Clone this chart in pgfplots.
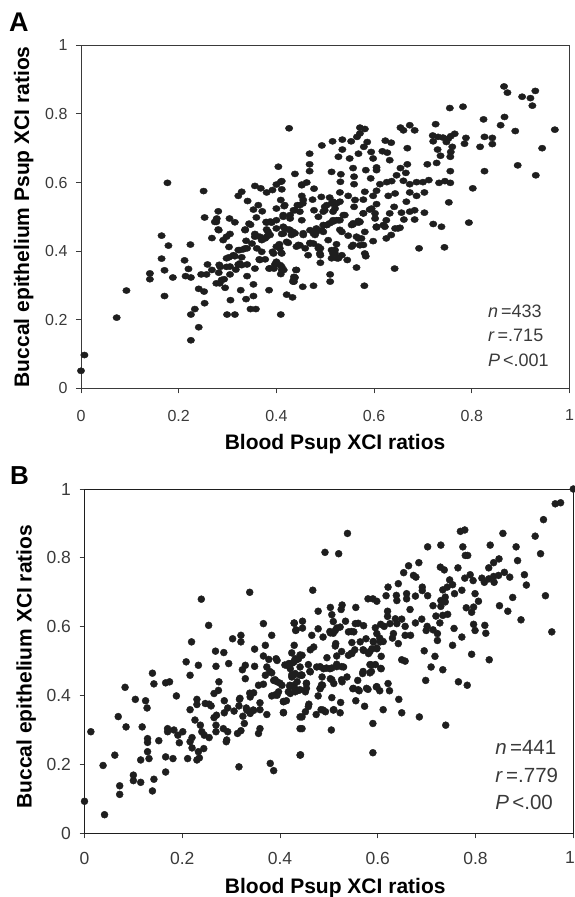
\documentclass[border=0pt]{standalone}
\usepackage{fontspec}
\setmainfont{Liberation Sans}
\usepackage{pgfplots}
\pgfplotsset{compat=1.18}
\definecolor{ink}{HTML}{1E1E1E}
\definecolor{ticktext}{HTML}{3A3A3A}
\pgfplotsset{panel/.style={
    scale only axis,
    xmin=0,xmax=1,ymin=0,ymax=1,
    xtick={0,0.2,0.4,0.6,0.8,1},
    ytick={0,0.2,0.4,0.6,0.8,1},
    tick align=outside,
    major tick length=5pt,
    tick style={color=ticktext,line width=0.8pt},
    xtick pos=bottom,ytick pos=left,
    clip=false,
    /pgf/number format/assume math mode=true,
    /pgf/number format/fixed,
    label style={font=\fontsize{21}{25}\bfseries\selectfont,text=black},
}}

\pgfplotstableread{
x y
0 .051
.007 .097
.073 .206
.093 .285
.141 .335
.141 .318
.165 .445
.179 .416
.165 .378
.171 .344
.171 .269
.188 .323
.224 .419
.212 .373
.220 .348
.214 .327
.225 .323
.241 .290
.252 .282
.233 .231
.225 .215
.241 .178
.225 .140
.253 .248
.246 .332
.257 .332
.259 .361
.268 .345
.268 .438
.282 .461
.277 .485
.282 .337
.283 .360
.277 .306
.284 .306
.293 .318
.295 .293
.305 .355
.305 .332
.306 .257
.299 .215
.315 .215
.291 .432
.298 .442
.305 .450
.303 .412
.303 .382
.315 .385
.329 .382
.317 .346
.322 .403
.332 .405
.340 .408
.322 .361
.329 .359
.340 .361
.327 .286
.340 .327
.338 .260
.353 .269
.347 .231
.358 .231
.353 .303
.356 .349
.336 .461
.347 .477
.338 .430
.356 .450
.350 .422
.360 .408
.370 .398
.365 .376
.377 .376
.370 .432
.380 .442
.387 .447
.385 .286
.385 .349
.395 .349
.392 .398
.397 .361
.408 .359
.415 .345
.409 .333
.409 .215
.421 .273
.433 .265
.434 .311
.438 .323
.441 .345
.410 .395
.400 .413
.406 .420
.411 .450
.424 .424
.441 .413
.434 .456
.426 .463
.380 .483
.390 .483
.400 .466
.414 .471
.426 .758
.177 .599
.251 .575
.404 .646
.438 .625
.356 .590
.368 .583
.329 .573
.322 .561
.380 .571
.392 .578
.400 .594
.409 .602
.411 .580
.341 .546
.409 .549
.363 .534
.353 .521
.371 .516
.400 .524
.416 .531
.435 .519
.443 .534
.452 .592
.281 .516
.278 .495
.274 .485
.253 .498
.304 .495
.315 .484
.359 .498
.344 .480
.379 .485
.390 .485
.400 .490
.414 .500
.428 .495
.336 .463
.281 .463
.380 .463
.417 .466
.866 .880
.873 .862
.903 .850
.920 .846
.930 .867
.924 .824
.755 .817
.782 .821
.824 .784
.867 .791
.859 .767
.889 .750
.970 .754
.944 .700
.894 .650
.931 .621
.826 .633
.802 .583
.753 .542
.794 .483
.726 .770
.826 .733
.842 .730
.842 .712
.817 .704
.788 .730
.785 .713
.720 .737
.721 .720
.731 .733
.741 .731
.752 .728
.757 .735
.765 .742
.748 .718
.760 .704
.730 .696
.736 .678
.756 .675
.757 .689
.709 .653
.728 .657
.756 .633
.654 .760
.660 .752
.673 .767
.683 .752
.668 .700
.571 .760
.581 .756
.565 .733
.571 .743
.586 .718
.579 .704
.623 .722
.635 .716
.553 .720
.535 .725
.515 .720
.493 .708
.535 .696
.468 .684
.527 .675
.550 .670
.568 .684
.594 .689
.598 .670
.617 .691
.627 .687
.632 .665
.468 .653
.468 .633
.513 .631
.532 .624
.557 .642
.559 .617
.583 .636
.605 .644
.605 .636
.593 .612
.654 .642
.668 .653
.665 .628
.646 .621
.660 .605
.531 .602
.559 .595
.452 .594
.462 .600
.477 .582
.612 .595
.626 .601
.636 .604
.673 .595
.687 .601
.700 .601
.712 .607
.733 .599
.745 .604
.756 .599
.411 .604
.452 .561
.530 .571
.492 .558
.509 .556
.547 .561
.581 .573
.605 .576
.598 .561
.629 .561
.643 .568
.673 .571
.687 .561
.703 .571
.474 .550
.454 .539
.438 .519
.417 .534
.516 .544
.530 .544
.561 .549
.578 .550
.499 .529
.496 .515
.516 .515
.477 .519
.559 .529
.605 .537
.641 .529
.666 .544
.591 .521
.578 .510
.602 .495
.632 .510
.656 .512
.683 .519
.673 .515
.703 .512
.683 .492
.661 .492
.721 .479
.738 .471
.486 .500
.537 .505
.516 .490
.527 .490
.452 .490
.571 .485
.557 .478
.503 .476
.625 .490
.605 .471
.653 .468
.643 .466
.482 .466
.530 .462
.692 .408
.744 .411
.642 .349
.580 .299
.564 .352
.545 .374
.510 .332
.510 .311
.476 .299
.454 .296
.436 .325
.440 .345
.436 .311
.598 .429
.581 .393
.583 .385
.554 .413
.571 .417
.574 .437
.523 .420
.513 .403
.520 .393
.534 .388
.513 .379
.524 .379
.490 .408
.490 .388
.490 .366
.506 .432
.465 .388
.476 .422
.448 .417
.459 .408
.421 .427
.469 .424
.486 .413
.455 .447
.476 .451
.496 .456
.435 .451
.534 .456
.547 .445
.564 .442
.581 .456
.414 .451
.496 .476
.509 .481
.523 .490
.554 .476
.568 .483
.605 .469
.622 .471
.625 .437
.635 .447
.649 .466
.411 .393
.411 .345
.414 .505
.428 .505
.387 .486
.448 .534
.448 .515
.455 .549
.503 .534
.513 .539
.523 .539
.520 .524
.499 .519
.503 .476
.516 .486
.530 .490
.540 .505
.557 .481
.568 .488
.455 .452
.469 .461
.482 .456
.493 .461
.479 .447
.428 .461
.438 .452
.431 .447
.445 .418
.469 .422
.486 .408
.489 .393
.366 .442
.377 .437
.356 .442
.383 .456
.325 .403
.336 .408
.298 .379
.312 .388
.325 .364
.285 .354
.298 .354
.288 .316
.520 .403
.527 .379
.516 .393
.557 .418
.568 .437
.578 .418
.578 .510
.595 .524
.602 .510
.605 .471
.619 .476
.400 .369
.411 .354
.387 .350
.435 .316
.366 .374
.407 .408
.394 .393
}\tableA

\pgfplotstableread{
x y
0 .093
.041 .054
.013 .295
.038 .197
.062 .227
.069 .339
.085 .309
.083 .424
.072 .138
.072 .113
.104 .389
.100 .169
.100 .153
.115 .148
.115 .213
.118 .309
.125 .385
.128 .364
.129 .275
.129 .264
.129 .237
.132 .217
.139 .465
.142 .434
.142 .157
.139 .123
.152 .269
.166 .437
.174 .440
.188 .399
.170 .304
.170 .295
.166 .222
.181 .217
.166 .178
.183 .300
.191 .285
.201 .295
.194 .263
.216 .459
.216 .359
.211 .217
.216 .266
.220 .278
.220 .248
.230 .389
.230 .374
.226 .329
.237 .314
.233 .237
.244 .246
.235 .219
.230 .213
.240 .295
.245 .285
.255 .278
.247 .377
.255 .375
.259 .370
.265 .406
.274 .415
.275 .440
.265 .336
.270 .343
.269 .314
.269 .295
.284 .304
.293 .295
.291 .271
.290 .266
.286 .385
.286 .350
.293 .364
.306 .355
.313 .290
.320 .298
.316 .193
.317 .389
.316 .370
.324 .340
.331 .364
.327 .319
.339 .396
.346 .408
.339 .348
.346 .357
.356 .430
.366 .433
.359 .379
.359 .359
.359 .304
.356 .290
.373 .345
.380 .203
.387 .182
.383 .399
.394 .401
.407 .382
.413 .385
.407 .350
.370 .459
.383 .466
.387 .444
.394 .440
.373 .483
.404 .430
.397 .411
.420 .430
.417 .411
.431 .411
.424 .454
.431 .464
.414 .488
.421 .478
.441 .227
.441 .338
.441 .304
.329 .449
.323 .475
.329 .488
.295 .493
.269 .485
.233 .488
.208 .498
.348 .485
.394 .502
.435 .440
.441 .483
.441 .459
.239 .680
.338 .700
.254 .604
.366 .609
.429 .610
.432 .589
.219 .556
.303 .565
.320 .575
.320 .556
.383 .575
.370 .546
.429 .546
.424 .524
.268 .529
.285 .525
.348 .535
.366 .515
.377 .505
.392 .507
.428 .497
.438 .507
1 1
.963 .957
.974 .960
.939 .911
.922 .863
.933 .812
.856 .871
.883 .832
.886 .792
.830 .837
.769 .877
.778 .881
.774 .832
.779 .807
.784 .807
.702 .832
.729 .837
.684 .786
.663 .777
.653 .757
.673 .749
.678 .744
.728 .773
.736 .765
.764 .771
.848 .797
.837 .786
.827 .771
.538 .871
.492 .816
.520 .812
.467 .706
.642 .725
.621 .715
.747 .736
.753 .722
.742 .715
.733 .707
.778 .741
.789 .751
.795 .734
.813 .741
.818 .729
.827 .739
.838 .729
.837 .746
.847 .749
.859 .758
.870 .744
.900 .751
.904 .721
.691 .715
.691 .705
.580 .681
.590 .681
.598 .674
.617 .690
.638 .691
.639 .676
.659 .696
.659 .681
.677 .689
.702 .690
.757 .696
.772 .706
.799 .696
.806 .674
.876 .685
.943 .690
.849 .661
.866 .645
.893 .620
.956 .585
.729 .676
.738 .686
.729 .659
.738 .672
.713 .661
.666 .650
.781 .655
.796 .657
.792 .642
.620 .645
.620 .630
.503 .656
.527 .663
.525 .650
.555 .656
.478 .645
.506 .635
.719 .631
.733 .633
.743 .636
.649 .622
.636 .623
.639 .609
.625 .609
.690 .622
.677 .611
.656 .601
.429 .611
.446 .616
.433 .591
.446 .596
.509 .615
.534 .616
.554 .609
.571 .603
.606 .607
.595 .597
.613 .601
.701 .601
.699 .589
.713 .591
.727 .611
.756 .595
.796 .607
.819 .604
.799 .589
.821 .581
.478 .594
.465 .575
.488 .570
.503 .582
.513 .589
.523 .599
.540 .585
.551 .585
.598 .580
.632 .580
.630 .567
.656 .575
.667 .575
.722 .580
.722 .560
.772 .570
.753 .546
.695 .530
.576 .565
.564 .556
.547 .554
.591 .556
.605 .556
.642 .551
.514 .551
.513 .544
.469 .541
.462 .533
.445 .517
.431 .507
.418 .493
.496 .510
.516 .515
.526 .528
.547 .522
.540 .517
.571 .531
.581 .522
.598 .536
.588 .536
.607 .514
.649 .504
.656 .500
.717 .514
.709 .483
.792 .520
.828 .504
.733 .475
.458 .490
.475 .483
.489 .478
.502 .478
.516 .491
.530 .483
.584 .490
.595 .490
.606 .479
.590 .234
.442 .228
.445 .304
.505 .300
.590 .319
.739 .314
.685 .338
.649 .350
.611 .359
.573 .369
.523 .350
.524 .380
.643 .389
.555 .385
.506 .394
.407 .351
.445 .338
.452 .353
.459 .375
.474 .345
.484 .359
.493 .353
.510 .359
.478 .399
.482 .420
.487 .430
.452 .411
.454 .435
.438 .415
.421 .406
.428 .430
.428 .459
.445 .459
.462 .469
.486 .454
.503 .449
.510 .435
.527 .440
.537 .454
.559 .444
.549 .420
.562 .414
.580 .418
.597 .425
.604 .414
.621 .435
.624 .414
.569 .464
.584 .466
.607 .478
.698 .444
.765 .440
.783 .430
.482 .484
.495 .480
.506 .480
.516 .484
.526 .484
.410 .489
.424 .494
.434 .504
.441 .518
.379 .470
.390 .446
.400 .436
.420 .426
.430 .421
.441 .417
.454 .436
.454 .421
.424 .460
.444 .460
.461 .470
.546 .523
.553 .533
.570 .533
.584 .528
.598 .538
.509 .581
.502 .586
.516 .596
.546 .586
.560 .610
.591 .557
.604 .567
.611 .557
.570 .470
.587 .489
.587 .470
.550 .421
.560 .417
.577 .421
.598 .426
.482 .421
.485 .431
.506 .446
.526 .446
.338 .407
.318 .392
.332 .358
.345 .358
.390 .402
.407 .383
.458 .368
.488 .358
.509 .358
}\tableB

\begin{document}
\begin{tikzpicture}[x=1pt,y=1pt]
\path[use as bounding box] (0,0) rectangle (575,897);

\begin{axis}[panel,
    at={(81pt,508.7pt)},anchor=south west,
    width=488.5pt,height=343pt,
    axis line style={color=ticktext,line width=0.9pt},
    tick label style={font=\fontsize{16}{19}\selectfont,text=ticktext},
    xticklabel style={yshift=-13pt},
    yticklabel style={xshift=-5pt},
    xlabel={Blood Psup XCI ratios},
    ylabel={Buccal epithelium Psup XCI ratios},
    xlabel style={at={(axis description cs:0.52,0)},anchor=north,yshift=-42pt},
    ylabel style={at={(axis description cs:0,0.5)},anchor=south,yshift=44pt},
]
\addplot[only marks,mark=*,color=ink,mark size=3.1pt,mark options={xscale=1.2}] table {\tableA};
\node[font=\fontsize{18}{22}\selectfont,text=ticktext,align=left,anchor=north west,inner sep=0pt]
    at (axis cs:0.833,0.245) {\textit{n}\,=433\\[2.5pt]\textit{r}\,=.715\\[2.5pt]\textit{P}\,<.001};
\end{axis}

\begin{axis}[panel,
    at={(84.5pt,63.7pt)},anchor=south west,
    width=488.8pt,height=344.3pt,
    axis line style={color=ink,line width=0.9pt},
    tick label style={font=\fontsize{17.5}{21}\selectfont,text=ticktext},
    xticklabels={0,0.2,0.4,0.6,0.8,\makebox[3pt][r]{1}},
    xticklabel style={yshift=-10pt},
    yticklabel style={xshift=-5pt},
    xlabel={Blood Psup XCI ratios},
    ylabel={Buccal epithelium XCI ratios},
    xlabel style={at={(axis description cs:0.513,0)},anchor=north,yshift=-41pt},
    ylabel style={at={(axis description cs:0,0.484)},anchor=south,yshift=45pt},
]
\addplot[only marks,mark=*,color=ink,mark size=3.5pt] table {\tableB};
\node[font=\fontsize{20.5}{24}\selectfont,text=ticktext,align=left,anchor=north west,inner sep=0pt]
    at (axis cs:0.84,0.27) {\textit{n}\,=441\\[3.5pt]\textit{r}\,=.779\\[3.5pt]\textit{P}\,<.00};
\end{axis}

\node[font=\fontsize{27}{30}\bfseries\selectfont,anchor=base west,inner sep=0pt] at (9,865) {A};
\node[font=\fontsize{26}{30}\bfseries\selectfont,anchor=base west,inner sep=0pt] at (10,412) {B};
\end{tikzpicture}
\end{document}
